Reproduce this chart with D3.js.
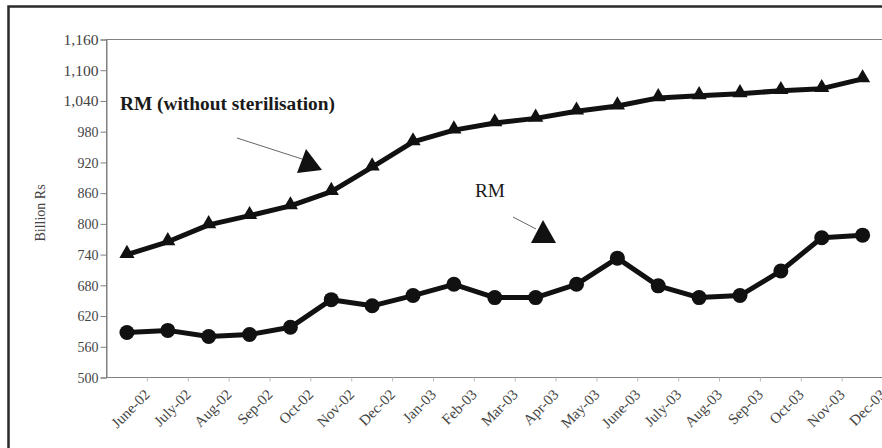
<!DOCTYPE html>
<html>
<head>
<meta charset="utf-8">
<script src="https://cdn.jsdelivr.net/npm/d3@7"></script>
<style>
  html, body { margin: 0; padding: 0; background: #fff; }
  svg { display: block; }
  text { font-family: "Liberation Serif", "Times New Roman", serif; }
</style>
</head>
<body>
<svg id="chart" width="882" height="448"></svg>
<script>
const categories = ["June-02","July-02","Aug-02","Sep-02","Oct-02","Nov-02","Dec-02","Jan-03","Feb-03","Mar-03","Apr-03","May-03","June-03","July-03","Aug-03","Sep-03","Oct-03","Nov-03","Dec-03"];
const rmWithoutSterilisation = [740, 765, 798, 816, 835, 863, 911, 960, 983, 997, 1006, 1020, 1030, 1046, 1050, 1054, 1060, 1064, 1083];
const rm = [588, 592, 580, 584, 598, 652, 640, 660, 682, 656, 656, 682, 733, 679, 656, 660, 708, 773, 778];
const yTicks = [500, 560, 620, 680, 740, 800, 860, 920, 980, 1040, 1100, 1160];

(function () {
const svg = d3.select("#chart");
const pLeft = 106.5, pTop = 39.5, pBottom = 377.5;
const band = 40.87;
const pRight = pLeft + band * categories.length;

// outer frame
svg.append("rect").attr("x", 8.5).attr("y", 6.5).attr("width", 900).attr("height", 460)
  .attr("fill", "none").attr("stroke", "#2a2a2a").attr("stroke-width", 2.5);

const x = d3.scaleBand().domain(categories).range([pLeft, pRight]).padding(0);
const y = d3.scaleLinear().domain([500, 1160]).range([pBottom, pTop]);
const cx = d => x(d) + x.bandwidth() / 2;

// plot area border
svg.append("rect").attr("x", pLeft).attr("y", pTop).attr("width", pRight - pLeft).attr("height", pBottom - pTop)
  .attr("fill", "none").attr("stroke", "#808080").attr("stroke-width", 1);

// y axis
const yAxis = svg.append("g").attr("transform", `translate(${pLeft},0)`)
  .call(d3.axisLeft(y).tickValues(yTicks).tickFormat(d3.format(",")).tickSize(6).tickPadding(2));
yAxis.select(".domain").attr("stroke", "#808080");
yAxis.selectAll(".tick line").attr("stroke", "#808080");
yAxis.selectAll(".tick text").attr("fill", "#444").style("font-size", "15px")
  .style("font-family", "'Liberation Serif', 'Times New Roman', serif")
  .attr("textLength", d => d >= 1000 ? 35 : 21).attr("lengthAdjust", "spacingAndGlyphs");

// x axis ticks at category boundaries
const xAxisG = svg.append("g").attr("transform", `translate(0,${pBottom})`);
xAxisG.append("line").attr("x1", pLeft).attr("x2", pRight).attr("stroke", "#808080");
xAxisG.selectAll("line.t").data(categories).join("line").attr("class", "t")
  .attr("x1", d => x(d) + x.bandwidth()).attr("x2", d => x(d) + x.bandwidth())
  .attr("y1", 0).attr("y2", 4).attr("stroke", "#bbb");
xAxisG.selectAll("text").data(categories).join("text")
  .attr("transform", d => `translate(${cx(d) + 24},${18}) rotate(-45)`)
  .attr("text-anchor", "end")
  .attr("fill", "#444")
  .style("font-size", "15px")
  .text(d => d);

// y axis title
svg.append("text").attr("transform", "translate(45,213) rotate(-90)")
  .attr("text-anchor", "middle").attr("fill", "#444").style("font-size", "14px")
  .text("Billion Rs");

const line = d3.line().x((d, i) => cx(categories[i])).y(d => y(d));

// RM (without sterilisation)
svg.append("path").datum(rmWithoutSterilisation).attr("d", line)
  .attr("fill", "none").attr("stroke", "#111").attr("stroke-width", 5).attr("stroke-linejoin", "round");
svg.selectAll("path.tri").data(rmWithoutSterilisation).join("path").attr("class", "tri")
  .attr("transform", (d, i) => `translate(${cx(categories[i])},${y(d) - 1})`)
  .attr("d", d3.symbol().type(d3.symbolTriangle).size(100))
  .attr("fill", "#111");

// RM
svg.append("path").datum(rm).attr("d", line)
  .attr("fill", "none").attr("stroke", "#111").attr("stroke-width", 5).attr("stroke-linejoin", "round");
svg.selectAll("circle.pt").data(rm).join("circle").attr("class", "pt")
  .attr("cx", (d, i) => cx(categories[i])).attr("cy", d => y(d)).attr("r", 7.5)
  .attr("fill", "#111");

// annotations
svg.append("text").attr("x", 120).attr("y", 110).attr("fill", "#1a1a1a")
  .style("font-size", "18px").style("font-weight", "bold")
  .attr("textLength", 215).attr("lengthAdjust", "spacingAndGlyphs")
  .text("RM (without sterilisation)");
svg.append("line").attr("x1", 237).attr("y1", 138).attr("x2", 302).attr("y2", 159)
  .attr("stroke", "#666").attr("stroke-width", 1);
svg.append("polygon").attr("points", "306,149 297,173 322,170").attr("fill", "#111");

svg.append("text").attr("x", 475).attr("y", 197).attr("fill", "#1a1a1a")
  .style("font-size", "18px")
  .attr("textLength", 30).attr("lengthAdjust", "spacingAndGlyphs")
  .text("RM");
svg.append("line").attr("x1", 513).attr("y1", 217).attr("x2", 536).attr("y2", 229)
  .attr("stroke", "#666").attr("stroke-width", 1);
svg.append("polygon").attr("points", "543,220 531,243 556,243").attr("fill", "#111");
})();
</script>
</body>
</html>
